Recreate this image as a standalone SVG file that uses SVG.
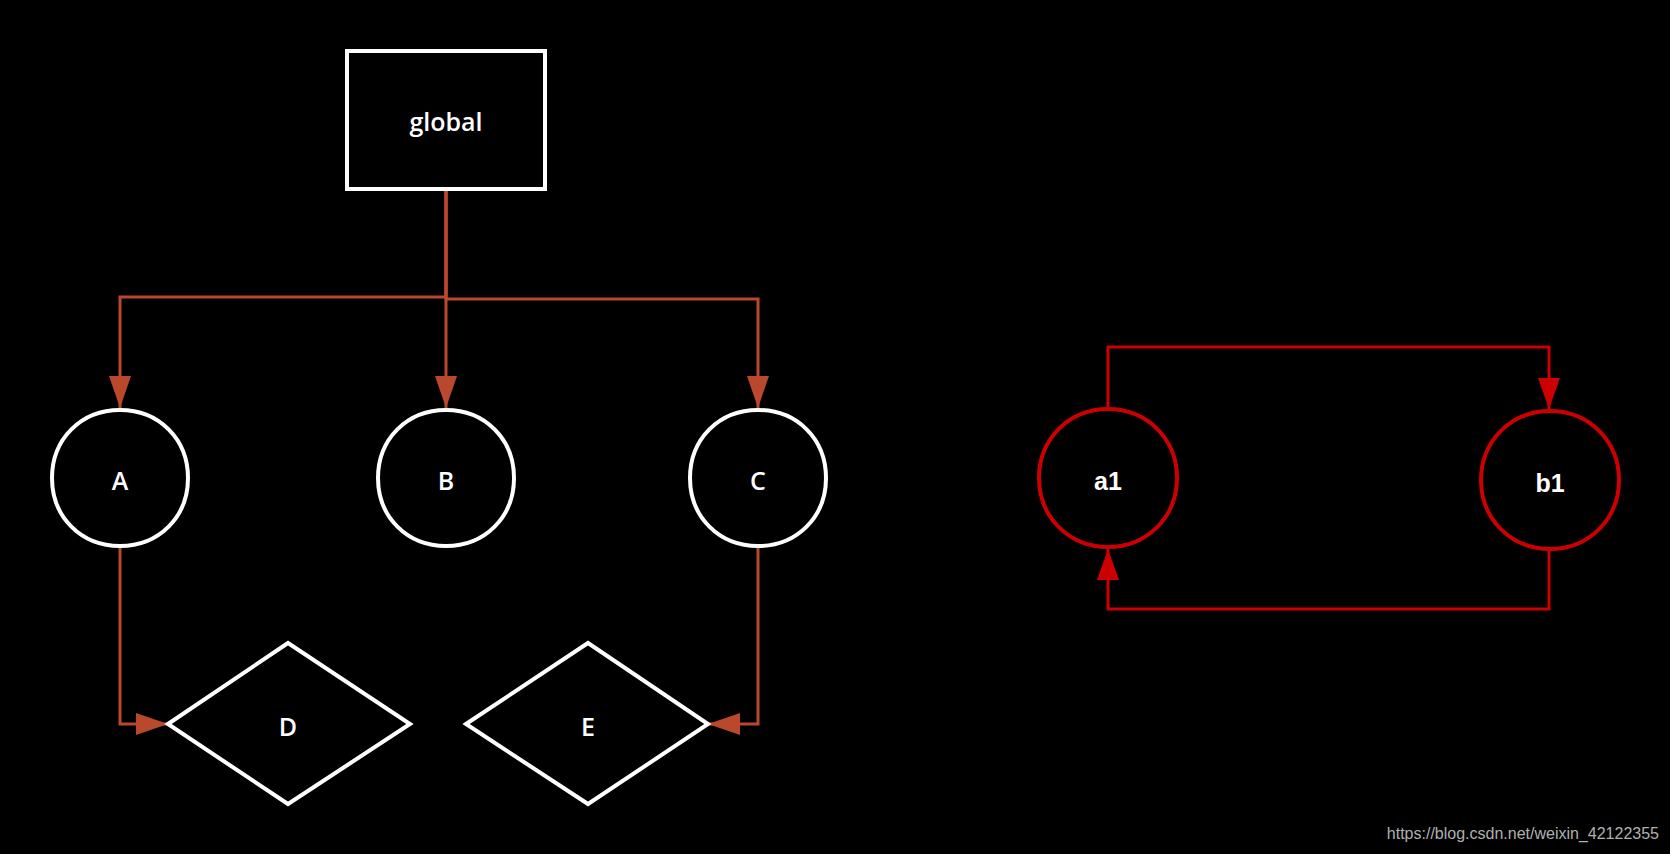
<svg xmlns="http://www.w3.org/2000/svg" width="1670" height="854" viewBox="0 0 1670 854">
<style>
.node{fill:none;stroke:#ffffff;stroke-width:4}
.rnode{fill:none;stroke:#cc0000;stroke-width:4}
.lbl{fill:#ffffff;font-family:"Open Sans","Liberation Sans",sans-serif;font-weight:600;font-size:25px;text-anchor:middle}
.rlbl{fill:#ffffff;font-family:"Liberation Sans",Arial,sans-serif;font-weight:bold;font-size:25px;text-anchor:middle}
.oc{fill:none;stroke:#b9482c;stroke-width:3;marker-end:url(#ao)}
.rc{fill:none;stroke:#cc0000;stroke-width:3;marker-end:url(#ar)}
</style>
<defs>
<marker id="ao" markerUnits="userSpaceOnUse" markerWidth="32" markerHeight="22" refX="32" refY="11" orient="auto"><path d="M0,0 L32,11 L0,22 Z" fill="#b9482c"/></marker>
<marker id="ar" markerUnits="userSpaceOnUse" markerWidth="31" markerHeight="22" refX="31" refY="11" orient="auto"><path d="M0,0 L31,11 L0,22 Z" fill="#cc0000"/></marker>
</defs>
<rect width="1670" height="854" fill="#000000"/>
<g id="connectors">
<path class="oc" d="M446,190 V297 H120 V408"/>
<path class="oc" d="M446,190 V408"/>
<path class="oc" d="M446,190 V299 H758 V408"/>
<path class="oc" d="M120,547 V724 H168"/>
<path class="oc" d="M758,547 V724 H708"/>
<path class="rc" d="M1108,407 V347 H1549 V409"/>
<path class="rc" d="M1549,551 V609 H1108 V549"/>
</g>
<g id="global"><rect class="node" x="347" y="51" width="198" height="138"/><text class="lbl" x="446" y="131">global</text></g>
<g id="A"><path class="node" d="M120,410 C159,410 188,439 188,478 C188,517 159,546 120,546 C81,546 52,517 52,478 C52,439 81,410 120,410Z"/><text class="lbl" x="120" y="490">A</text></g>
<g id="B"><path class="node" d="M446,410 C485,410 514,439 514,478 C514,517 485,546 446,546 C407,546 378,517 378,478 C378,439 407,410 446,410Z"/><text class="lbl" x="446" y="490">B</text></g>
<g id="C"><path class="node" d="M758,410 C797,410 826,439 826,478 C826,517 797,546 758,546 C719,546 690,517 690,478 C690,439 719,410 758,410Z"/><text class="lbl" x="758" y="490">C</text></g>
<g id="D"><polygon class="node" points="168,724 288,643 410,724 288,804"/><text class="lbl" x="288" y="736">D</text></g>
<g id="E"><polygon class="node" points="466,724 588,643 708,724 588,804"/><text class="lbl" x="588" y="736">E</text></g>
<g id="a1"><path class="rnode" d="M1108,409 C1147,409 1177,439 1177,478 C1177,517 1147,547 1108,547 C1069,547 1039,517 1039,478 C1039,439 1069,409 1108,409Z"/><text class="rlbl" x="1108" y="490">a1</text></g>
<g id="b1"><path class="rnode" d="M1550,411 C1589,411 1619,441 1619,480 C1619,519 1589,549 1550,549 C1511,549 1481,519 1481,480 C1481,441 1511,411 1550,411Z"/><text class="rlbl" x="1550" y="492">b1</text></g>
<text x="1659" y="839" fill="#b0b0b0" font-family="'Liberation Sans',Arial,sans-serif" font-size="16" text-anchor="end">https://blog.csdn.net/weixin_42122355</text>
</svg>
